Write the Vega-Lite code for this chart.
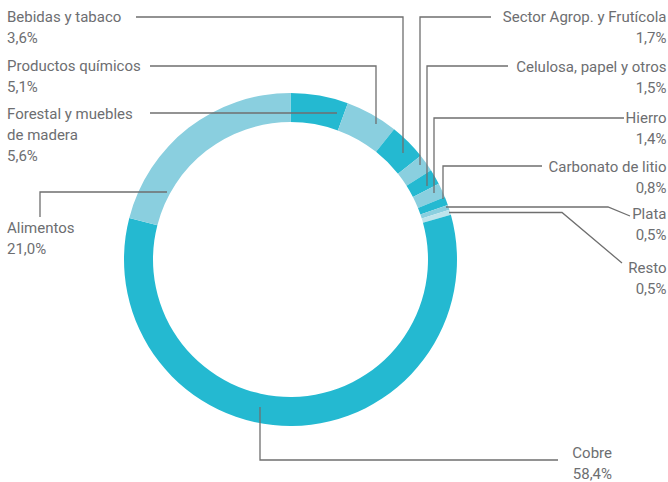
{
  "$schema": "https://vega.github.io/schema/vega-lite/v6.json",
  "width": 668,
  "height": 482,
  "autosize": {"type": "none"},
  "padding": 0,
  "background": "white",
  "config": {"view": {"stroke": null}},
  "datasets": {
    "sectores": [
      {"sector": "Forestal y muebles de madera", "porcentaje": 5.6, "orden": 1},
      {"sector": "Productos químicos", "porcentaje": 5.1, "orden": 2},
      {"sector": "Bebidas y tabaco", "porcentaje": 3.6, "orden": 3},
      {"sector": "Sector Agrop. y Frutícola", "porcentaje": 1.7, "orden": 4},
      {"sector": "Celulosa, papel y otros", "porcentaje": 1.5, "orden": 5},
      {"sector": "Hierro", "porcentaje": 1.4, "orden": 6},
      {"sector": "Carbonato de litio", "porcentaje": 0.8, "orden": 7},
      {"sector": "Plata", "porcentaje": 0.5, "orden": 8},
      {"sector": "Resto", "porcentaje": 0.5, "orden": 9},
      {"sector": "Cobre", "porcentaje": 58.4, "orden": 10},
      {"sector": "Alimentos", "porcentaje": 21.0, "orden": 11}
    ],
    "etiquetas": [
      {"texto": "Bebidas y tabaco\n3,6%", "x": 7, "y": 22, "lado": "izq"},
      {"texto": "Productos químicos\n5,1%", "x": 7, "y": 71, "lado": "izq"},
      {"texto": "Forestal y muebles\nde madera\n5,6%", "x": 7, "y": 119, "lado": "izq"},
      {"texto": "Alimentos\n21,0%", "x": 7, "y": 233, "lado": "izq"},
      {"texto": "Sector Agrop. y Frutícola\n1,7%", "x": 666.5, "y": 21.5, "lado": "der"},
      {"texto": "Celulosa, papel y otros\n1,5%", "x": 666.5, "y": 71.5, "lado": "der"},
      {"texto": "Hierro\n1,4%", "x": 666.5, "y": 123, "lado": "der"},
      {"texto": "Carbonato de litio\n0,8%", "x": 666.5, "y": 172, "lado": "der"},
      {"texto": "Plata\n0,5%", "x": 666.5, "y": 218.5, "lado": "der"},
      {"texto": "Resto\n0,5%", "x": 666.5, "y": 272.5, "lado": "der"},
      {"texto": "Cobre\n58,4%", "x": 612, "y": 457.5, "lado": "der"}
    ],
    "guias": [
      {"sector": "Bebidas y tabaco", "punto": 1, "x": 136, "y": 17},
      {"sector": "Bebidas y tabaco", "punto": 2, "x": 403, "y": 17},
      {"sector": "Bebidas y tabaco", "punto": 3, "x": 403, "y": 153},
      {"sector": "Productos químicos", "punto": 1, "x": 150, "y": 66},
      {"sector": "Productos químicos", "punto": 2, "x": 376, "y": 66},
      {"sector": "Productos químicos", "punto": 3, "x": 376, "y": 124},
      {"sector": "Forestal y muebles de madera", "punto": 1, "x": 150, "y": 113},
      {"sector": "Forestal y muebles de madera", "punto": 2, "x": 337, "y": 113},
      {"sector": "Alimentos", "punto": 1, "x": 40, "y": 217},
      {"sector": "Alimentos", "punto": 2, "x": 40, "y": 192},
      {"sector": "Alimentos", "punto": 3, "x": 167, "y": 192},
      {"sector": "Sector Agrop. y Frutícola", "punto": 1, "x": 491, "y": 17},
      {"sector": "Sector Agrop. y Frutícola", "punto": 2, "x": 420, "y": 17},
      {"sector": "Sector Agrop. y Frutícola", "punto": 3, "x": 420, "y": 165},
      {"sector": "Celulosa, papel y otros", "punto": 1, "x": 508, "y": 66},
      {"sector": "Celulosa, papel y otros", "punto": 2, "x": 427, "y": 66},
      {"sector": "Celulosa, papel y otros", "punto": 3, "x": 427, "y": 186},
      {"sector": "Hierro", "punto": 1, "x": 624, "y": 118},
      {"sector": "Hierro", "punto": 2, "x": 434, "y": 118},
      {"sector": "Hierro", "punto": 3, "x": 434, "y": 193},
      {"sector": "Carbonato de litio", "punto": 1, "x": 542, "y": 166},
      {"sector": "Carbonato de litio", "punto": 2, "x": 443, "y": 166},
      {"sector": "Carbonato de litio", "punto": 3, "x": 443, "y": 199},
      {"sector": "Plata", "punto": 1, "x": 446, "y": 207},
      {"sector": "Plata", "punto": 2, "x": 608, "y": 207},
      {"sector": "Plata", "punto": 3, "x": 630, "y": 216},
      {"sector": "Resto", "punto": 1, "x": 449, "y": 212.5},
      {"sector": "Resto", "punto": 2, "x": 562, "y": 212.5},
      {"sector": "Resto", "punto": 3, "x": 622, "y": 263},
      {"sector": "Cobre", "punto": 1, "x": 260, "y": 407},
      {"sector": "Cobre", "punto": 2, "x": 260, "y": 460},
      {"sector": "Cobre", "punto": 3, "x": 558, "y": 460}
    ]
  },
  "layer": [
    {
      "data": {"name": "sectores"},
      "mark": {"type": "arc", "outerRadius": 166.5, "innerRadius": 137.5},
      "encoding": {
        "theta": {"field": "porcentaje", "type": "quantitative", "stack": true},
        "order": {"field": "orden", "type": "quantitative"},
        "color": {
          "field": "sector",
          "type": "nominal",
          "legend": null,
          "scale": {
            "domain": ["Forestal y muebles de madera", "Productos químicos", "Bebidas y tabaco", "Sector Agrop. y Frutícola", "Celulosa, papel y otros", "Hierro", "Carbonato de litio", "Plata", "Resto", "Cobre", "Alimentos"],
            "range": ["#24B9D1", "#8ACFDF", "#24B9D1", "#8ACFDF", "#24B9D1", "#8ACFDF", "#24B9D1", "#8ACFDF", "#BDE4EC", "#24B9D1", "#8ACFDF"]
          }
        },
        "x": {"datum": 290.5, "type": "quantitative", "scale": {"domain": [0, 668], "nice": false, "zero": false}, "axis": null},
        "y": {"datum": 259.5, "type": "quantitative", "scale": {"domain": [0, 482], "nice": false, "zero": false, "reverse": true}, "axis": null}
      }
    },
    {
      "data": {"name": "guias"},
      "mark": {"type": "line", "stroke": "#6f6f6f", "strokeWidth": 1.3, "interpolate": "linear"},
      "encoding": {
        "x": {"field": "x", "type": "quantitative", "scale": {"domain": [0, 668], "nice": false, "zero": false}, "axis": null},
        "y": {"field": "y", "type": "quantitative", "scale": {"domain": [0, 482], "nice": false, "zero": false, "reverse": true}, "axis": null},
        "detail": {"field": "sector", "type": "nominal"},
        "order": {"field": "punto", "type": "quantitative"}
      }
    },
    {
      "data": {"name": "etiquetas"},
      "transform": [{"filter": "datum.lado === 'izq'"}],
      "mark": {"type": "text", "align": "left", "baseline": "alphabetic", "lineBreak": "\n", "lineHeight": 21, "font": "Roboto", "fontSize": 15, "fill": "#6d6e71"},
      "encoding": {
        "text": {"field": "texto", "type": "nominal"},
        "x": {"field": "x", "type": "quantitative", "scale": {"domain": [0, 668], "nice": false, "zero": false}, "axis": null},
        "y": {"field": "y", "type": "quantitative", "scale": {"domain": [0, 482], "nice": false, "zero": false, "reverse": true}, "axis": null}
      }
    },
    {
      "data": {"name": "etiquetas"},
      "transform": [{"filter": "datum.lado === 'der'"}],
      "mark": {"type": "text", "align": "right", "baseline": "alphabetic", "lineBreak": "\n", "lineHeight": 21, "font": "Roboto", "fontSize": 15, "fill": "#6d6e71"},
      "encoding": {
        "text": {"field": "texto", "type": "nominal"},
        "x": {"field": "x", "type": "quantitative", "scale": {"domain": [0, 668], "nice": false, "zero": false}, "axis": null},
        "y": {"field": "y", "type": "quantitative", "scale": {"domain": [0, 482], "nice": false, "zero": false, "reverse": true}, "axis": null}
      }
    }
  ]
}
